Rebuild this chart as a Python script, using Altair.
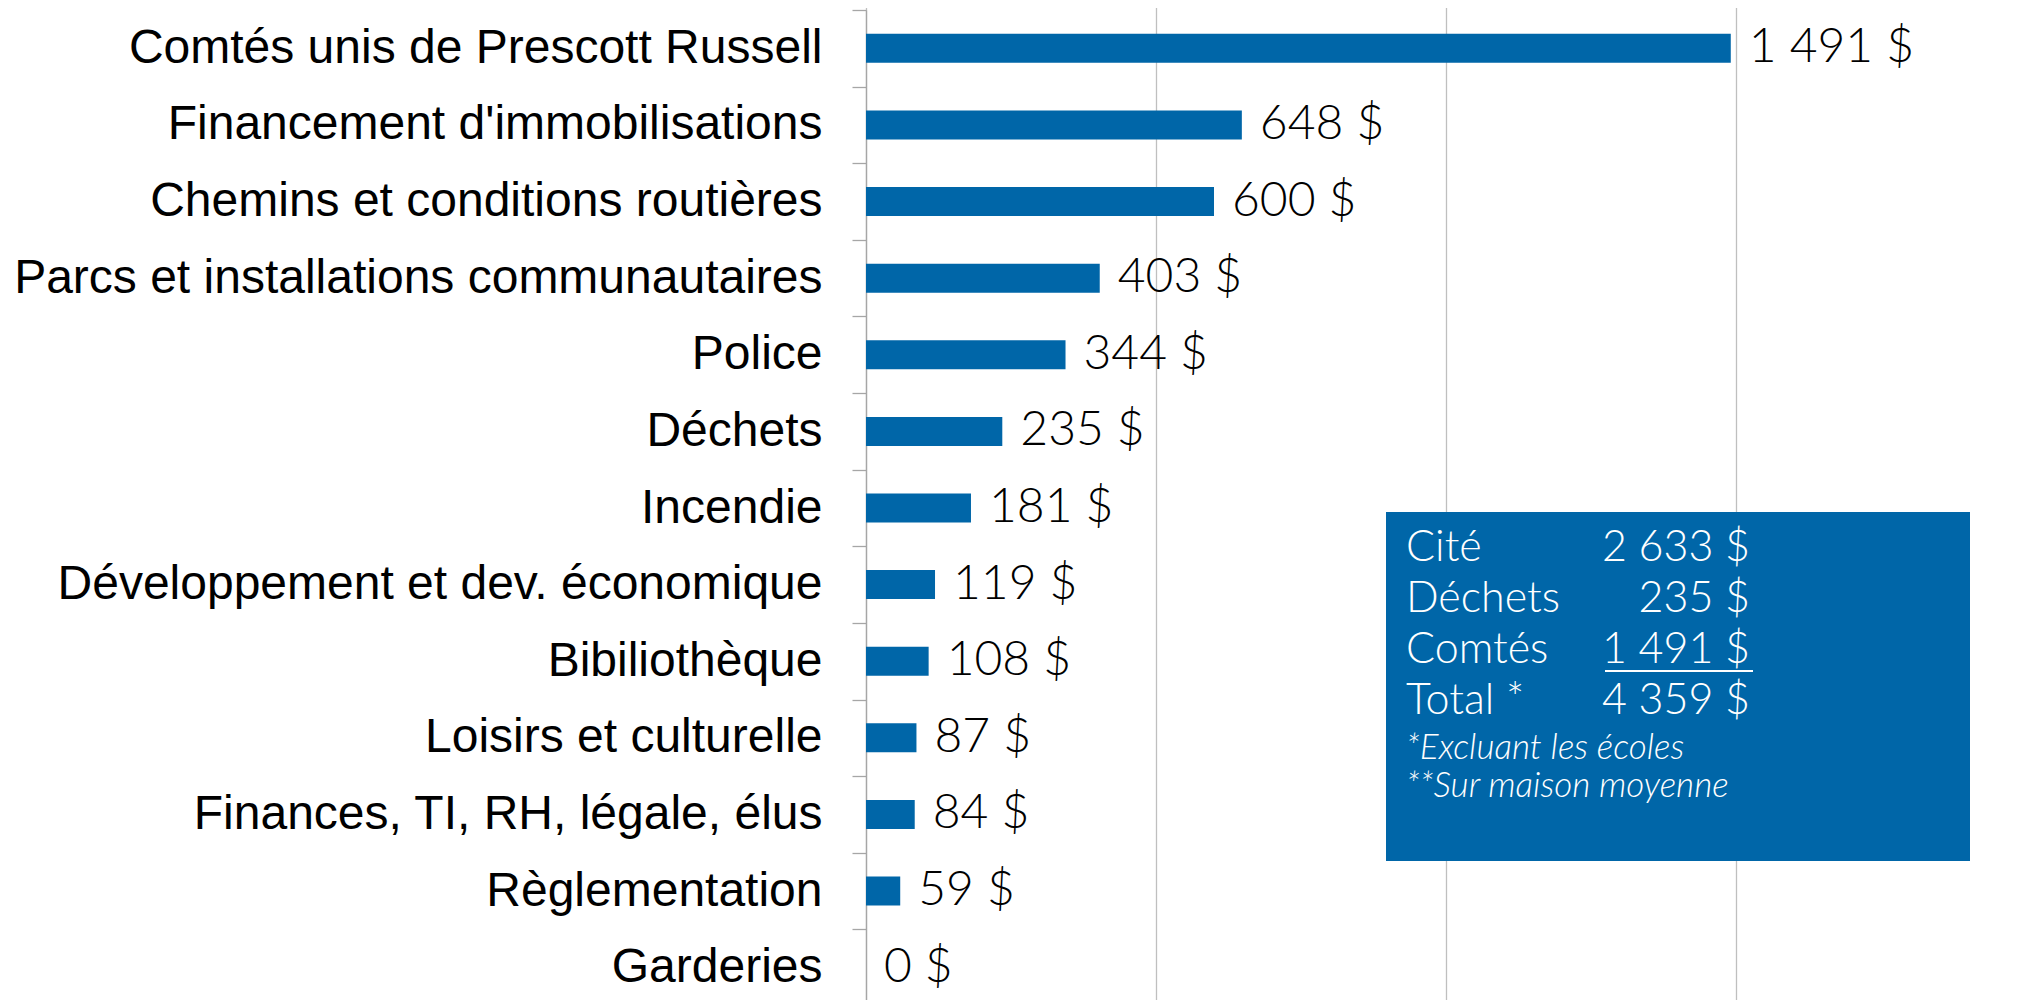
import altair as alt
import pandas as pd

categories = [
    "Comtés unis de Prescott Russell",
    "Financement d'immobilisations",
    "Chemins et conditions routières",
    "Parcs et installations communautaires",
    "Police",
    "Déchets",
    "Incendie",
    "Développement et dev. économique",
    "Bibiliothèque",
    "Loisirs et culturelle",
    "Finances, TI, RH, légale, élus",
    "Règlementation",
    "Garderies",
]
values = [1491, 648, 600, 403, 344, 235, 181, 119, 108, 87, 84, 59, 0]

box_labels = ["Cité", "Déchets", "Comtés", "Total *"]
box_values = ["2 633 $", "235 $", "1 491 $", "4 359 $"]
box_notes = ["*Excluant les écoles", "**Sur maison moyenne"]

BLUE = "#0066a8"
GRID = "#bfbfbf"
W = 1140
H = 990
BAND_EXTENT = 996
PX_PER_UNIT = 0.58

df = pd.DataFrame({
    "cat": categories,
    "val": values,
    "lab": [f"{v:,}".replace(",", " ") + " $" for v in values],
})

y_scale = alt.Scale(paddingInner=0, paddingOuter=0, range=[0, BAND_EXTENT])
x_enc = alt.X("val:Q", scale=alt.Scale(domain=[0, W / PX_PER_UNIT], nice=False, zero=True),
              axis=alt.Axis(values=[0, 500, 1000, 1500], labels=False, ticks=False, domain=False,
                            grid=True, gridColor=GRID, gridWidth=1.3, title=None))
y_enc = alt.Y("cat:N", sort=categories, title=None, scale=y_scale,
              axis=alt.Axis(labelFont="Liberation Sans", labelFontSize=48, labelColor="#000000",
                            labelLimit=2000, labelPadding=30, tickSize=14, tickColor="#a6a6a6",
                            tickWidth=1.3, domainColor="#a6a6a6", domainWidth=1.3,
                            tickBand="extent", grid=False))

bars = alt.Chart(df).mark_bar(color=BLUE, size=29).encode(x=x_enc, y=y_enc)
labels = alt.Chart(df).mark_text(align="left", baseline="middle", dx=18, font="Lato",
                                 fontWeight=300, fontSize=48, color="#000000").encode(
    x="val:Q", y=alt.Y("cat:N", sort=categories, scale=y_scale), text="lab:N")

layers = [bars, labels]

# annotation box (pixel positions relative to the plot area)
box = alt.Chart(alt.Data(values=[{"a": 1}])).mark_rect(color=BLUE).encode(
    x=alt.value(520), x2=alt.value(1104), y=alt.value(502), y2=alt.value(851))
layers.append(box)

row_y0 = 538
row_step = 51
for i, (bl, bv) in enumerate(zip(box_labels, box_values)):
    yy = row_y0 + i * row_step
    layers.append(alt.Chart(alt.Data(values=[{"t": bl}])).mark_text(
        align="left", baseline="middle", font="Lato", fontWeight=300, fontSize=43,
        color="white").encode(x=alt.value(540), y=alt.value(yy), text="t:N"))
    layers.append(alt.Chart(alt.Data(values=[{"t": bv}])).mark_text(
        align="right", baseline="middle", font="Lato", fontWeight=300, fontSize=43,
        color="white").encode(x=alt.value(884), y=alt.value(yy), text="t:N"))

layers.append(alt.Chart(alt.Data(values=[{"a": 1}])).mark_rule(color="white", strokeWidth=2).encode(
    x=alt.value(739), x2=alt.value(887), y=alt.value(row_y0 + 2 * row_step + 21)))

for j, note in enumerate(box_notes):
    layers.append(alt.Chart(alt.Data(values=[{"t": note}])).mark_text(
        align="left", baseline="middle", font="Lato", fontWeight=300, fontStyle="italic",
        fontSize=35, color="white").encode(x=alt.value(540), y=alt.value(738 + j * 38), text="t:N"))

chart = alt.layer(*layers).properties(
    width=W, height=H,
    autosize=alt.AutoSizeParams(type="none"),
    padding={"left": 858, "top": 2, "right": 5, "bottom": 0},
).configure_view(stroke=None)

chart.save("out.html", embed_options={"renderer": "svg", "actions": False})
